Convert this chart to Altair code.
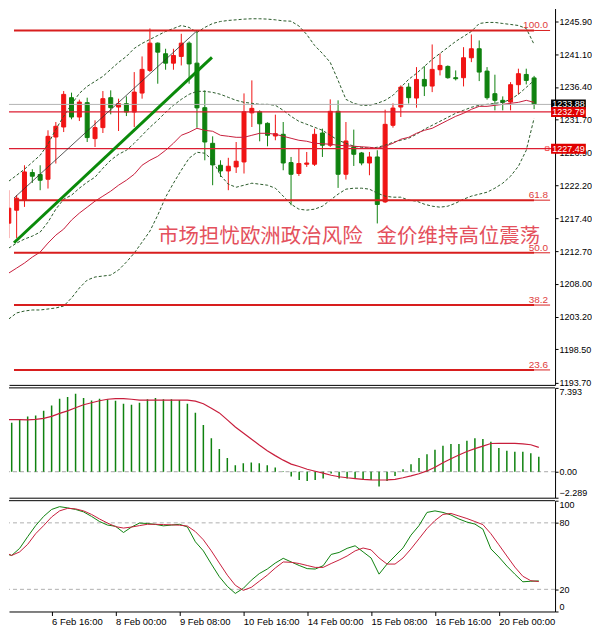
import json
import altair as alt
import pandas as pd

# ------------------------------------------------------------------ data
BAR_INDEX = list(range(68))  # 4-hour bars, bar 6 = 6 Feb 16:00

OPEN = [1216.73, 1218.60, 1220.05, 1224.04, 1223.75, 1223.07, 1229.17, 1230.62, 1234.85, 1232.06,
        1234.13, 1228.94, 1230.53, 1234.85, 1233.50, 1233.99, 1232.78, 1235.52, 1238.79, 1242.73,
        1241.20, 1239.84, 1240.81, 1242.73, 1239.84, 1233.41, 1228.26, 1225.09, 1224.27, 1224.85,
        1225.57, 1232.66, 1232.81, 1231.15, 1229.32, 1229.56, 1225.48, 1223.90, 1225.24, 1225.24,
        1229.75, 1227.98, 1232.88, 1223.79, 1227.73, 1226.87, 1225.42, 1226.29, 1219.80, 1230.86,
        1233.50, 1236.38, 1234.80, 1237.49, 1236.53, 1238.89, 1239.37, 1237.74, 1237.74, 1240.62,
        1241.92, 1238.69, 1235.43, 1234.47, 1234.22, 1236.73, 1238.21, 1237.71]
HIGH = [1221.49, 1220.77, 1225.09, 1224.52, 1225.09, 1230.14, 1231.34, 1235.81, 1235.58, 1234.57,
        1234.85, 1231.58, 1235.81, 1235.91, 1234.71, 1235.04, 1238.55, 1240.81, 1244.85, 1242.83,
        1241.92, 1241.92, 1244.08, 1242.97, 1244.46, 1235.91, 1229.27, 1225.81, 1226.17, 1228.45,
        1235.47, 1237.35, 1233.02, 1231.29, 1232.40, 1231.34, 1226.29, 1227.59, 1227.01, 1230.38,
        1230.38, 1234.61, 1234.47, 1231.34, 1230.24, 1227.01, 1227.01, 1227.26, 1233.12, 1234.03,
        1236.63, 1236.96, 1239.27, 1239.41, 1242.54, 1241.24, 1239.51, 1238.79, 1242.15, 1243.98,
        1243.12, 1239.27, 1238.17, 1235.04, 1237.10, 1239.04, 1239.04, 1238.00]
LOW = [1214.57, 1214.57, 1219.08, 1222.54, 1221.49, 1221.73, 1225.34, 1229.89, 1231.73, 1231.48,
       1228.45, 1227.73, 1229.75, 1232.45, 1230.04, 1232.20, 1230.62, 1234.71, 1238.55, 1236.87,
       1238.89, 1238.89, 1239.51, 1236.87, 1230.50, 1225.81, 1222.21, 1223.40, 1221.49, 1223.98,
       1223.90, 1230.62, 1228.55, 1227.83, 1228.70, 1224.37, 1219.32, 1223.55, 1224.85, 1224.99,
       1226.29, 1227.73, 1221.82, 1223.03, 1224.99, 1225.09, 1223.65, 1216.69, 1219.66, 1230.53,
       1232.06, 1234.01, 1233.41, 1235.09, 1235.66, 1238.07, 1237.59, 1237.35, 1236.48, 1239.99,
       1237.25, 1234.57, 1233.02, 1233.02, 1233.02, 1235.33, 1236.77, 1233.20]
CLOSE = [1218.89, 1220.33, 1224.13, 1223.51, 1222.93, 1229.27, 1230.72, 1235.33, 1232.06, 1234.22,
         1229.09, 1230.53, 1234.71, 1233.41, 1233.99, 1232.78, 1235.66, 1238.94, 1242.73, 1241.43,
         1239.84, 1240.95, 1242.73, 1239.73, 1233.38, 1228.45, 1225.14, 1224.27, 1224.95, 1225.67,
         1232.81, 1233.31, 1231.08, 1229.42, 1229.66, 1225.42, 1223.79, 1225.34, 1225.42, 1229.56,
         1227.98, 1232.88, 1223.79, 1228.60, 1226.68, 1225.42, 1226.29, 1219.43, 1231.00, 1233.35,
         1236.38, 1234.85, 1237.49, 1236.53, 1238.94, 1239.51, 1237.74, 1237.59, 1240.62, 1241.92,
         1238.55, 1234.85, 1234.47, 1234.18, 1236.73, 1238.32, 1237.35, 1233.88]

BB_UP = [1222.79, 1223.65, 1224.52, 1225.53, 1226.54, 1228.13, 1230.29, 1232.16, 1233.89, 1235.48,
         1236.49, 1237.21, 1237.93, 1238.94, 1239.95, 1240.81, 1241.97, 1242.69, 1243.27, 1243.84,
         1244.42, 1244.85, 1245.28, 1245.00, 1244.28, 1245.00, 1245.57, 1245.86, 1246.01, 1246.10,
         1246.20, 1246.25, 1246.25, 1246.20, 1246.10, 1245.95, 1245.90, 1245.21, 1243.98, 1242.40,
         1241.25, 1239.95, 1237.35, 1234.61, 1234.04, 1233.75, 1233.75, 1234.04, 1234.47, 1235.19,
         1236.34, 1237.50, 1238.36, 1239.37, 1240.38, 1241.25, 1242.11, 1242.98, 1243.70, 1244.42,
         1245.57, 1245.72, 1245.72, 1245.57, 1245.43, 1245.28, 1244.85, 1242.55]
BB_MID = [1213.13, 1213.85, 1214.43, 1214.86, 1215.44, 1216.88, 1218.75, 1220.19, 1220.77, 1221.78,
          1222.65, 1223.37, 1224.66, 1225.82, 1226.68, 1227.26, 1228.27, 1229.42, 1230.58, 1231.59,
          1232.74, 1233.75, 1234.61, 1235.34, 1235.77, 1235.77, 1235.62, 1235.34, 1234.90, 1234.47,
          1234.18, 1234.04, 1233.89, 1233.89, 1233.75, 1233.03, 1232.16, 1231.44, 1231.01, 1230.58,
          1230.14, 1229.42, 1228.70, 1228.27, 1227.84, 1227.69, 1227.55, 1227.69, 1227.98, 1228.41,
          1228.70, 1228.99, 1229.57, 1230.29, 1230.86, 1231.44, 1232.02, 1232.60, 1233.03, 1233.46,
          1233.75, 1233.89, 1234.04, 1234.18, 1234.61, 1235.34, 1236.34, 1237.35]
BB_LO = [1202.89, 1203.76, 1204.04, 1204.19, 1204.19, 1204.33, 1204.48, 1204.76, 1205.92, 1207.36,
         1208.51, 1208.95, 1209.09, 1209.23, 1209.96, 1211.11, 1212.41, 1213.99, 1215.58, 1217.89,
         1220.48, 1222.50, 1224.38, 1226.11, 1226.97, 1226.83, 1225.82, 1223.65, 1222.36, 1221.92,
         1222.21, 1222.50, 1222.36, 1222.21, 1221.78, 1220.63, 1219.47, 1218.75, 1218.61, 1218.75,
         1219.18, 1220.05, 1220.92, 1221.64, 1221.78, 1221.78, 1221.64, 1221.06, 1220.63, 1220.48,
         1220.48, 1220.05, 1219.91, 1219.47, 1219.18, 1219.04, 1219.18, 1219.62, 1220.19, 1220.63,
         1220.92, 1221.20, 1221.78, 1222.50, 1223.51, 1224.95, 1227.26, 1231.87]
MA_RED = [1209.52, 1210.24, 1210.97, 1211.83, 1212.55, 1213.85, 1215.00, 1215.87, 1217.17, 1218.18,
          1219.04, 1219.91, 1220.63, 1221.35, 1222.21, 1222.93, 1223.80, 1225.10, 1225.82, 1226.39,
          1227.26, 1228.27, 1229.42, 1229.86, 1230.43, 1230.14, 1230.00, 1229.42, 1229.28, 1229.13,
          1229.13, 1229.42, 1229.71, 1229.71, 1229.57, 1229.28, 1228.99, 1228.70, 1228.56, 1228.27,
          1228.20, 1228.13, 1227.98, 1227.91, 1227.84, 1227.76, 1227.69, 1227.55, 1227.84, 1228.27,
          1228.85, 1229.13, 1229.71, 1230.14, 1230.43, 1231.01, 1231.59, 1232.16, 1232.60, 1233.17,
          1233.60, 1233.60, 1233.75, 1233.89, 1234.04, 1234.18, 1234.47, 1234.18]

MACD = [4.13, 4.31, 4.60, 4.87, 4.96, 5.37, 5.84, 6.44, 6.59, 6.88,
        6.50, 6.29, 6.44, 6.38, 6.26, 5.99, 5.91, 6.08, 6.38, 6.50,
        6.38, 6.38, 6.32, 5.99, 5.19, 4.13, 2.95, 2.00, 1.20, 0.58,
        0.75, 0.82, 0.75, 0.58, 0.37, 0.05, -0.43, -0.73, -0.82, -0.73,
        -0.60, -0.16, -0.60, -0.60, -0.60, -0.67, -0.73, -1.31, -0.82, -0.37,
        0.22, 0.67, 1.20, 1.55, 1.94, 2.29, 2.44, 2.44, 2.74, 2.95,
        2.89, 2.65, 2.09, 1.85, 1.76, 1.76, 1.64, 1.31]
SIGNAL = [4.60, 4.60, 4.59, 4.57, 4.62, 4.71, 4.88, 5.15, 5.37, 5.64,
          5.91, 6.08, 6.26, 6.39, 6.44, 6.44, 6.39, 6.32, 6.32, 6.32,
          6.32, 6.32, 6.32, 6.32, 6.22, 5.99, 5.59, 5.19, 4.57, 3.95,
          3.42, 2.89, 2.35, 1.85, 1.42, 1.02, 0.67, 0.46, 0.22, 0.04,
          -0.13, -0.31, -0.44, -0.53, -0.60, -0.67, -0.71, -0.73, -0.71, -0.67,
          -0.53, -0.37, -0.18, 0.07, 0.40, 0.80, 1.15, 1.47, 1.78, 2.04,
          2.26, 2.49, 2.50, 2.50, 2.50, 2.46, 2.38, 2.15]

STOCH_K = [52.4, 50.6, 57.0, 67.5, 77.5, 85.8, 92.1, 94.6, 93.5, 92.1,
           89.9, 85.8, 81.2, 78.0, 76.9, 71.3, 76.2, 79.8, 79.4, 78.6,
           77.3, 78.0, 78.7, 76.3, 62.9, 54.7, 42.8, 31.4, 22.7, 16.3,
           20.9, 28.2, 34.2, 38.3, 43.7, 48.0, 44.7, 41.5, 38.7, 38.3,
           41.3, 51.5, 53.3, 57.0, 59.3, 53.8, 48.3, 33.7, 42.8, 50.1,
           57.4, 68.9, 77.5, 89.4, 90.8, 89.4, 87.1, 83.5, 80.7, 78.9,
           74.3, 56.5, 49.2, 41.0, 33.7, 26.8, 27.3, 27.6]
STOCH_D = [53.8, 50.6, 53.8, 60.6, 70.2, 77.5, 85.3, 90.8, 93.1, 92.6,
           90.8, 87.6, 83.5, 79.8, 76.6, 75.3, 76.2, 77.5, 78.7, 78.7,
           78.4, 78.2, 77.9, 77.1, 72.1, 64.7, 54.7, 43.7, 32.8, 23.7,
           19.1, 21.8, 27.3, 32.8, 39.2, 44.7, 44.4, 43.3, 41.5, 39.8,
           39.8, 43.3, 46.5, 50.1, 54.7, 57.3, 55.6, 48.3, 42.8, 42.8,
           48.3, 56.5, 65.6, 74.8, 82.1, 87.6, 88.5, 86.2, 83.9, 81.2,
           78.4, 70.2, 60.2, 50.1, 40.1, 31.8, 27.8, 27.0]

TIME_TICKS = [6, 14, 22, 30, 38, 46, 54, 62]
TIME_LABELS = ["6 Feb 16:00", "8 Feb 00:00", "9 Feb 08:00", "10 Feb 16:00",
               "14 Feb 00:00", "15 Feb 08:00", "16 Feb 16:00", "20 Feb 00:00"]
PRICE_TICKS = [1193.70, 1198.50, 1203.20, 1208.00, 1212.70, 1217.40,
               1222.20, 1226.90, 1231.70, 1236.40, 1241.10, 1245.90]
MACD_TICKS = [-2.289, 0.0, 7.393]
STOCH_TICKS = [0, 20, 80, 100]
STOCH_LEVELS = [20, 80]

FIB_LABELS = ["100.0", "61.8", "50.0", "38.2", "23.6"]
FIB_PRICES = [1244.56, 1220.05, 1212.45, 1204.90, 1195.53]
FIB_X = [0.6625, 67.0, 69.0375]

LEVEL_PRICES = [1232.79, 1227.49]
BID_PRICE = [1233.88]

TREND_GREEN_X = [0.6625, 25.91]
TREND_GREEN_P = [1213.90, 1240.67]
TREND_THIN_X = [0.6625, 23.95]
TREND_THIN_P = [1220.36, 1244.46]

HEADLINE = ["市场担忧欧洲政治风险", "金价维持高位震荡"]
HEADLINE_X = [19.04, 46.91]
HEADLINE_P = [1214.71, 1214.71]

TAG_TEXT = ["1233.88", "1232.79", "1227.49"]
TAG_PRICE = [1233.88, 1232.79, 1227.49]
TAG_BG = ["#000000", "#e00000", "#e00000"]
TAG_X = [69.1625, 73.6]
MARKER_X = [68.66]
MARKER_P = [1227.49]

# ------------------------------------------------------------------ layout / style
X_DOMAIN = [0.6625, 69.0375]
PRICE_DOMAIN = [1193.37, 1247.73]
MACD_DOMAIN = [-2.289, 7.393]
STOCH_DOMAIN = [0, 100]
W, H_MAIN, H_MACD, H_STOCH = 547, 377, 110, 111

UP = "#f01414"
DOWN = "#0f820f"
BAND = "#2a5a2a"
MA_COL = "#c81e3c"
FIB_COL = "#d81e1e"
LVL_COL = "#dc1e32"
LBL_FONT = "Liberation Sans"

xs = alt.Scale(domain=X_DOMAIN, nice=False, zero=False)
ax_plain = alt.Axis(orient="bottom", labels=False, ticks=False, domain=True, title=None, grid=False)
ax_time = alt.Axis(orient="bottom", values=TIME_TICKS, title=None, grid=False, domain=True,
                   ticks=True, tickSize=4, labelAlign="left", labelBaseline="top", labelPadding=1,
                   labelOverlap=False, labelFlush=False, labelBound=False, labelFontSize=9.5,
                   labelExpr="%s[indexof(%s, datum.value)]" % (json.dumps(TIME_LABELS), json.dumps(TIME_TICKS)))


def X(field, axis=ax_plain):
    return alt.X(field, type="quantitative", scale=xs, axis=axis)


ys_main = alt.Scale(domain=PRICE_DOMAIN, nice=False, zero=False)
ay_main = alt.Axis(orient="right", values=PRICE_TICKS, format=".2f", title=None, grid=False,
                   tickSize=3, labelPadding=1)


def YM(field):
    return alt.Y(field, type="quantitative", scale=ys_main, axis=ay_main)


ys_macd = alt.Scale(domain=MACD_DOMAIN, nice=False, zero=False)
ay_macd = alt.Axis(orient="right", values=MACD_TICKS, title=None, grid=False, tickSize=3,
                   labelPadding=1, labelFlush=True,
                   labelExpr="datum.value == 0 ? '0.00' : format(datum.value, '.3f')")


def YD(field):
    return alt.Y(field, type="quantitative", scale=ys_macd, axis=ay_macd)


ys_st = alt.Scale(domain=STOCH_DOMAIN, nice=False, zero=False)
ay_st = alt.Axis(orient="right", values=STOCH_TICKS, title=None, grid=False, tickSize=3,
                 labelPadding=1, labelFlush=True, format="d")


def YS(field):
    return alt.Y(field, type="quantitative", scale=ys_st, axis=ay_st)


df = pd.DataFrame({
    "k": BAR_INDEX, "open": OPEN, "high": HIGH, "low": LOW, "close": CLOSE,
    "bb_up": BB_UP, "bb_mid": BB_MID, "bb_lo": BB_LO, "ma": MA_RED,
    "macd": MACD, "signal": SIGNAL, "stk": STOCH_K, "std": STOCH_D,
})
df["dir"] = ["up" if c >= o else "down" for o, c in zip(OPEN, CLOSE)]
df["body_lo"] = [min(o, c) for o, c in zip(OPEN, CLOSE)]
df["body_hi"] = [max(o, c) for o, c in zip(OPEN, CLOSE)]

dir_scale = alt.Scale(domain=["up", "down"], range=[UP, DOWN])
base = alt.Chart(df)

# ------------------------------------------------------------------ main panel
wicks = base.mark_rule(strokeWidth=1, clip=True).encode(
    x=X("k"), y=YM("low"), y2="high", color=alt.Color("dir:N", scale=dir_scale, legend=None))
bodies = base.mark_bar(size=4, strokeWidth=1, clip=True).encode(
    x=X("k"), y=YM("body_lo"), y2="body_hi",
    color=alt.Color("dir:N", scale=dir_scale, legend=None),
    stroke=alt.Stroke("dir:N", scale=dir_scale, legend=None))

bands = [base.mark_line(color=BAND, strokeWidth=1, strokeDash=[3, 2], clip=True).encode(x=X("k"), y=YM(c))
         for c in ["bb_up", "bb_mid", "bb_lo"]]
ma_line = base.mark_line(color=MA_COL, strokeWidth=1, clip=True).encode(x=X("k"), y=YM("ma"))

fib_df = pd.DataFrame({"label": FIB_LABELS, "p": FIB_PRICES,
                       "x0": [FIB_X[0]] * 5, "x1": [FIB_X[1]] * 5, "x2": [FIB_X[2]] * 5})
fib_thick = alt.Chart(fib_df).mark_rule(color=FIB_COL, strokeWidth=2, clip=True).encode(
    x=X("x0"), x2="x1", y=YM("p"))
fib_thin = alt.Chart(fib_df).mark_rule(color=FIB_COL, strokeWidth=1, clip=True).encode(
    x=X("x1"), x2="x2", y=YM("p"))
fib_text = alt.Chart(fib_df).mark_text(align="right", baseline="alphabetic", dx=-2, dy=-2,
                                       font=LBL_FONT, fontSize=10, color="#e03c3c").encode(
    x=X("x2"), y=YM("p"), text="label:N")

lvl = alt.Chart(pd.DataFrame({"p": LEVEL_PRICES})).mark_rule(color=LVL_COL, strokeWidth=1.2).encode(y=YM("p"))
bid = alt.Chart(pd.DataFrame({"p": BID_PRICE})).mark_rule(color="#b4b4b4", strokeWidth=1).encode(y=YM("p"))

trend_g = alt.Chart(pd.DataFrame({"k": TREND_GREEN_X, "p": TREND_GREEN_P})).mark_line(
    color="#0a8a0a", strokeWidth=3, clip=True).encode(x=X("k"), y=YM("p"))
trend_t = alt.Chart(pd.DataFrame({"k": TREND_THIN_X, "p": TREND_THIN_P})).mark_line(
    color="#303030", strokeWidth=0.8, clip=True).encode(x=X("k"), y=YM("p"))

headline = alt.Chart(pd.DataFrame({"t": HEADLINE, "k": HEADLINE_X, "p": HEADLINE_P})).mark_text(
    align="left", baseline="middle", font="Noto Sans CJK SC", fontSize=20.5, color="#e4505c").encode(
    x=X("k"), y=YM("p"), text="t:N")

tag_df = pd.DataFrame({"t": TAG_TEXT, "p": TAG_PRICE, "bg": TAG_BG,
                       "x0": [TAG_X[0]] * 3, "x1": [TAG_X[1]] * 3,
                       "xc": [(TAG_X[0] + TAG_X[1]) / 2] * 3})
tag_layers = []
for i in range(len(TAG_TEXT)):
    sub = tag_df.iloc[[i]]
    tag_layers.append(alt.Chart(sub).mark_rule(strokeWidth=10, strokeCap="butt").encode(
        x=X("x0"), x2="x1", y=YM("p"), color=alt.Color("bg:N", scale=None)))
    tag_layers.append(alt.Chart(sub).mark_text(color="white", font=LBL_FONT, fontSize=9,
                                               align="center", baseline="middle").encode(
        x=X("xc"), y=YM("p"), text="t:N"))
marker = alt.Chart(pd.DataFrame({"k": MARKER_X, "p": MARKER_P})).mark_point(
    shape="square", size=14, filled=False, color=UP, strokeWidth=1).encode(x=X("k"), y=YM("p"))

main = alt.layer(wicks, bodies, *bands, ma_line, fib_thick, fib_thin, lvl, bid, trend_t, trend_g,
                 headline, fib_text, *tag_layers, marker).properties(width=W, height=H_MAIN)

# ------------------------------------------------------------------ MACD panel
zero_line = alt.Chart(pd.DataFrame({"v": [0.0]})).mark_rule(
    color="#a8a8a8", strokeDash=[4, 3], strokeWidth=1).encode(y=YD("v"))
macd_top = alt.Chart(pd.DataFrame({"v": [MACD_DOMAIN[1]]})).mark_rule(color="black", strokeWidth=1).encode(y=YD("v"))
hist = base.mark_rule(color=DOWN, strokeWidth=1.5, clip=True).encode(x=X("k"), y=YD("macd"), y2=alt.datum(0))
sig = base.mark_line(color=MA_COL, strokeWidth=1.2, clip=True).encode(x=X("k"), y=YD("signal"))
macd = alt.layer(zero_line, hist, sig, macd_top).properties(width=W, height=H_MACD)

# ------------------------------------------------------------------ Stochastic panel
lev = alt.Chart(pd.DataFrame({"v": STOCH_LEVELS})).mark_rule(
    color="#b0b0b0", strokeDash=[4, 3], strokeWidth=1).encode(y=YS("v"))
st_top = alt.Chart(pd.DataFrame({"v": [STOCH_DOMAIN[1]]})).mark_rule(color="black", strokeWidth=1).encode(y=YS("v"))
k_line = base.mark_line(color=DOWN, strokeWidth=1, clip=True).encode(x=X("k", ax_time), y=YS("stk"))
d_line = base.mark_line(color=MA_COL, strokeWidth=1, clip=True).encode(x=X("k", ax_time), y=YS("std"))
stoch = alt.layer(lev, k_line, d_line, st_top).properties(width=W, height=H_STOCH)

chart = alt.vconcat(main, macd, stoch, spacing=3, bounds="flush").resolve_scale(
    x="independent", y="independent").properties(padding=0, background="white").configure_view(
    strokeWidth=0).configure_axis(labelFont=LBL_FONT, labelFontSize=9, labelColor="#000000",
                                  tickColor="#000000", domainColor="#000000", grid=False)

chart.save("out.html", embed_options={"renderer": "svg", "actions": False})
